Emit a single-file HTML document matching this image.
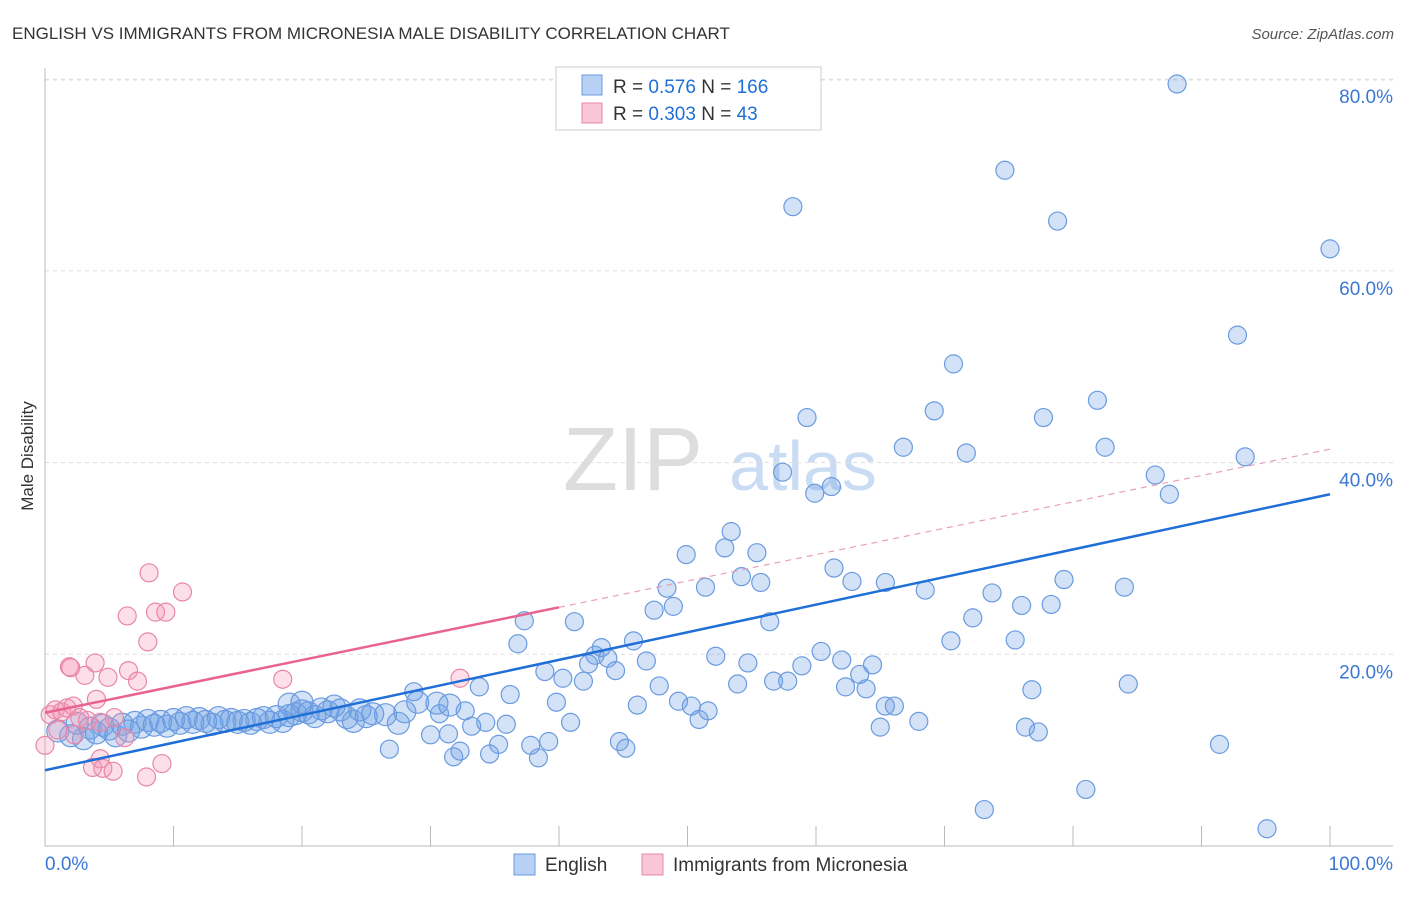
<!DOCTYPE html>
<html><head><meta charset="utf-8"><style>
body{margin:0;background:#fff;font-family:"Liberation Sans",sans-serif;}
svg text{font-family:"Liberation Sans",sans-serif;}
</style></head><body>
<svg id="c" width="1406" height="892" xmlns="http://www.w3.org/2000/svg">
<text x="12" y="39" font-size="17" fill="#333">ENGLISH VS IMMIGRANTS FROM MICRONESIA MALE DISABILITY CORRELATION CHART</text>
<text x="1394" y="39" font-size="15" fill="#555" text-anchor="end" font-style="italic">Source: ZipAtlas.com</text>
<text x="33" y="456" font-size="17" fill="#333" text-anchor="middle" transform="rotate(-90 33 456)">Male Disability</text>
<g><text x="633" y="490" font-size="90" fill="#ddd" font-family="Liberation Serif" text-anchor="middle">ZIP</text><text x="803" y="490" font-size="70" fill="#c9dcf3" text-anchor="middle">atlas</text></g>
<g id="grid"></g><g id="pts"></g><g id="lines"></g>
<g>
<rect x="556" y="67" width="265" height="63" fill="#fff" stroke="#ccc"/>
<rect x="582" y="75" width="20" height="20" fill="#b7d0f3" stroke="#6a9be0"/>
<rect x="582" y="103" width="20" height="20" fill="#f9c6d6" stroke="#e887a8"/>
<text x="613" y="93" font-size="19" fill="#333">R = <tspan fill="#1f6fd6">0.576</tspan>    N = <tspan fill="#1f6fd6">166</tspan></text>
<text x="613" y="120" font-size="19" fill="#333">R = <tspan fill="#1f6fd6">0.303</tspan>    N =   <tspan fill="#1f6fd6">43</tspan></text>
</g>
<g>
<rect x="514" y="854" width="21" height="21" fill="#b7d0f3" stroke="#6a9be0"/>
<text x="545" y="871" font-size="19" fill="#333">English</text>
<rect x="642" y="854" width="21" height="21" fill="#f9c6d6" stroke="#e887a8"/>
<text x="673" y="871" font-size="19" fill="#333">Immigrants from Micronesia</text>
</g>
</svg>
<script>
const yTicks=[20,40,60,80];
const xTickLabels=["0.0%","100.0%"];
const englishX=[88.1,74.7,58.2,78.8,100,92.8,70.7,69.2,59.3,81.9,77.7,66.8,71.7,82.5,93.4,57.4,61.2,59.9,86.4,87.5,53.4,49.9,52.9,55.4,61.4,54.2,55.7,48.4,51.4,62.8,65.4,68.5,79.3,84.0,73.7,47.4,48.9,76.0,78.3,72.2,37.3,41.2,56.4,45.8,36.8,70.5,75.5,43.3,42.8,43.8,52.2,60.4,62.0,46.8,42.3,54.7,58.9,64.4,38.9,63.4,44.4,40.3,41.9,47.8,53.9,56.7,57.8,62.3,63.9,76.8,84.3,33.8,28.7,36.2,39.8,49.3,50.3,46.1,51.6,65.4,66.1,50.9,32.7,30.7,40.9,34.3,33.2,31.4,35.9,30.0,68.0,65.0,76.3,77.3,26.8,35.3,37.8,39.2,44.7,45.2,32.3,31.8,34.6,38.4,91.4,81.0,73.1,95.1,
1,2,2.5,3,3.5,4,4.5,5,5.5,6,6.5,7,7.5,8,8.5,9,9.5,10,10.5,11,11.5,12,12.5,13,13.5,14,14.5,15,15.5,16,16.5,17,17.5,18,18.5,19,19.5,20,20.5,21,21.5,22,22.5,23,23.5,24,24.5,25,25.5,26.5,27.5,28,29,30.5,31.5,20,19];
const englishY=[79.5,70.5,66.7,65.2,62.3,53.3,50.3,45.4,44.7,46.5,44.7,41.6,41.0,41.6,40.6,39.0,37.5,36.8,38.7,36.7,32.8,30.4,31.1,30.6,29.0,28.1,27.5,26.9,27.0,27.6,27.5,26.7,27.8,27.0,26.4,24.6,25.0,25.1,25.2,23.8,23.5,23.4,23.4,21.4,21.1,21.4,21.5,20.7,19.9,19.6,19.8,20.3,19.4,19.3,19.0,19.1,18.8,18.9,18.2,17.9,18.3,17.5,17.2,16.7,16.9,17.2,17.2,16.6,16.4,16.3,16.9,16.6,16.1,15.8,15.0,15.1,14.6,14.7,14.1,14.6,14.6,13.2,14.1,13.8,12.9,12.9,12.5,11.7,12.7,11.6,13.0,12.4,12.4,11.9,10.1,10.6,10.5,10.9,10.9,10.2,9.9,9.3,9.6,9.2,10.6,5.9,3.8,1.8,
12.0,11.5,12.8,11.2,12.3,11.8,12.6,12.2,11.5,12.7,12.0,12.9,12.4,13.1,12.6,13.0,12.5,13.2,12.8,13.4,12.9,13.3,13.0,12.7,13.4,13.0,13.2,12.9,13.1,12.8,13.2,13.4,12.9,13.5,13.0,13.6,13.8,14.1,13.9,13.5,14.3,14.0,14.6,14.2,13.4,13.0,14.2,13.5,13.8,13.7,12.8,14.0,15.0,14.9,14.7,15.0,14.8];
const micronesiaX=[8.1,10.7,6.4,8.6,9.4,8.0,1.9,2.0,3.9,3.1,4.9,6.5,7.2,18.5,32.3,4.0,0.4,0.8,1.3,1.7,2.2,2.7,3.3,0,1.0,2.3,4.3,5.4,6.2,3.7,4.3,4.5,5.3,7.9,9.1];
const micronesiaY=[28.5,26.5,24.0,24.4,24.4,21.3,18.7,18.6,19.1,17.8,17.6,18.3,17.2,17.4,17.5,15.3,13.7,14.2,14.0,14.4,14.6,13.4,13.1,10.5,12.1,11.6,12.9,13.4,11.3,8.2,9.1,8.1,7.8,7.2,8.6];
const englishTrend=[7.9,36.7];
const micronesiaTrend=[13.9,41.4];
const micronesiaSolidEnd=40;
const X0=45,X1=1330,Y0=846,YPER=9.585;
const sx=v=>X0+(X1-X0)*v/100, sy=v=>Y0-v*YPER;
const NS="http://www.w3.org/2000/svg";
function mk(tag,attrs,parent){const e=document.createElementNS(NS,tag);for(const k in attrs)e.setAttribute(k,attrs[k]);parent.appendChild(e);return e;}
const grid=document.getElementById('grid'),pts=document.getElementById('pts'),lines=document.getElementById('lines'),svg=document.getElementById('c');
mk('line',{x1:45,y1:80,x2:1393,y2:80,stroke:'#ddd','stroke-dasharray':'4,4'},grid);
yTicks.forEach(t=>{
 const g=mk('line',{x1:45,y1:sy(t),x2:1393,y2:sy(t),stroke:'#ddd','stroke-dasharray':'4,4'},grid);
 
 
 const tx=mk('text',{x:1393,y:sy(t)+24,'font-size':19,fill:'#3a78d4','text-anchor':'end'},grid);
 tx.textContent=t.toFixed(1)+'%';
 
 
});
const ax=mk('line',{x1:45,y1:846,x2:1393,y2:846,stroke:'#bbb'},grid);


const ay=mk('line',{x1:45,y1:68,x2:45,y2:846,stroke:'#bbb'},grid);


for(let i=0;i<=10;i++){const t=mk('line',{x1:sx(i*10),y1:826,x2:sx(i*10),y2:846,stroke:'#bbb'},grid);
 
 }
const xl0=mk('text',{x:45,y:870,'font-size':19,fill:'#3a78d4'},grid);xl0.textContent=xTickLabels[0];


const xl1=mk('text',{x:1393,y:870,'font-size':19,fill:'#3a78d4','text-anchor':'end'},grid);xl1.textContent=xTickLabels[1];


englishX.forEach((x,i)=>{const c=mk('circle',{cx:sx(x),cy:sy(englishY[i]),r:i>=108?11:9,fill:'rgba(110,160,230,0.3)',stroke:'#6a9be0','stroke-width':1.2},pts);
 
 });
micronesiaX.forEach((x,i)=>{const c=mk('circle',{cx:sx(x),cy:sy(micronesiaY[i]),r:9,fill:'rgba(244,150,180,0.3)',stroke:'#e887a8','stroke-width':1.2},pts);
 
 });
const bl=mk('line',{x1:sx(0),y1:sy(englishTrend[0]),x2:sx(100),y2:sy(englishTrend[1]),stroke:'#1f6fd6','stroke-width':2.5},lines);


const pAt=x=>micronesiaTrend[0]+(micronesiaTrend[1]-micronesiaTrend[0])*x/100;
const pl=mk('line',{x1:sx(0),y1:sy(pAt(0)),x2:sx(micronesiaSolidEnd),y2:sy(pAt(micronesiaSolidEnd)),stroke:'#e8648e','stroke-width':2.5},lines);


const pd=mk('line',{x1:sx(micronesiaSolidEnd),y1:sy(pAt(micronesiaSolidEnd)),x2:sx(100),y2:sy(pAt(100)),stroke:'#e8a0b8','stroke-width':1.2,'stroke-dasharray':'6,5'},lines);


</script>
</body></html>
